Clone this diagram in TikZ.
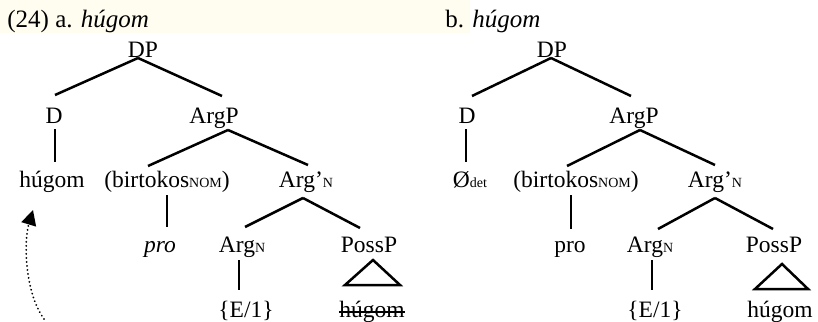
\documentclass[tikz,border=0pt]{standalone}
\usepackage{fontspec}
\setmainfont{Liberation Serif}
\usetikzlibrary{calc,arrows.meta}
\definecolor{hl}{RGB}{255,253,240}
\newcommand{\sbs}[1]{{\fontsize{7pt}{7pt}\selectfont #1}}
\begin{document}
\begin{tikzpicture}[x=0.5pt,y=-0.5pt,
  lab/.style={anchor=base,inner sep=0pt,font=\fontsize{11.75pt}{13pt}\selectfont},
  ttl/.style={anchor=base west,inner sep=0pt,font=\fontsize{12.5pt}{14pt}\selectfont},
  br/.style={line width=1.25pt},
  tri/.style={line width=1.25pt,line join=miter}]
\useasboundingbox (0,0) rectangle (818,321);
\fill[hl] (0,0) rectangle (470,33);
% titles
\node[ttl] (ta) at (7,27) {(24) a. \textit{húgom}};
\node[ttl] (tb) at (445,27) {b. \textit{húgom}};
% tree a
\node[lab] (DPa) at (143,57) {DP};
\node[lab] (Da) at (54,123) {D};
\node[lab] (ArgPa) at (214,123) {ArgP};
\node[lab] (hugoma) at (52,187) {húgom};
\node[lab] (birta) at (167,187) {(birtokos\sbs{NOM})};
\node[lab] (Argpa) at (306,187) {Arg’\sbs{N}};
\node[lab] (proa) at (160,252) {\textit{pro}};
\node[lab] (ArgNa) at (242,252) {Arg\sbs{N}};
\node[lab] (PossPa) at (369,252) {PossP};
\node[lab] (E1a) at (246,317) {\{E/1\}};
\node[lab] (hugomsa) at (372,317) {húgom};
\draw[br] ($(DPa.base)+(-5,1)$) -- ($(Da.base)+(1,-28)$);
\draw[br] ($(DPa.base)+(-5,1)$) -- ($(ArgPa.base)+(8,-27)$);
\draw[br] ($(Da.base)+(1,6)$) -- ($(hugoma.base)+(3,-25)$);
\draw[br] ($(ArgPa.base)+(14,7)$) -- ($(birta.base)+(-19,-21)$);
\draw[br] ($(ArgPa.base)+(14,7)$) -- ($(Argpa.base)+(2,-22)$);
\draw[br] ($(birta.base)+(0,8)$) -- ($(proa.base)+(7,-25)$);
\draw[br] ($(Argpa.base)+(-3,11)$) -- ($(ArgNa.base)+(3,-25)$);
\draw[br] ($(Argpa.base)+(-3,11)$) -- ($(PossPa.base)+(-9,-24)$);
\draw[br] ($(ArgNa.base)+(-3,8)$) -- ($(E1a.base)+(-7,-27)$);
\draw[tri] ($(PossPa.base)+(4,8)$) -- ($(PossPa.base)+(-24,33)$) -- ($(PossPa.base)+(31,33)$) -- cycle;
\draw[line width=1.1pt] ($(hugomsa.base west)+(0,-5)$) -- ($(hugomsa.base east)+(0,-5)$);
\draw[line width=1pt,line cap=round,dash pattern=on 0.01pt off 2pt,-{Triangle[length=7.5pt,width=7.5pt]}]
  ($(hugoma.base)+(-8,132)$) .. controls +(-20,-28) and +(-9,30) .. ($(hugoma.base)+(-19,23)$);
% tree b
\node[lab] (DPb) at (552,57) {DP};
\node[lab] (Db) at (467,123) {D};
\node[lab] (ArgPb) at (634,123) {ArgP};
\node[lab] (Odet) at (470,187) {Ø\sbs{det}};
\node[lab] (birtb) at (576,187) {(birtokos\sbs{NOM})};
\node[lab] (Argpb) at (715,187) {Arg’\sbs{N}};
\node[lab] (prob) at (570,252) {pro};
\node[lab] (ArgNb) at (650,252) {Arg\sbs{N}};
\node[lab] (PossPb) at (774,252) {PossP};
\node[lab] (E1b) at (655,317) {\{E/1\}};
\node[lab] (hugomb) at (780,317) {húgom};
\draw[br] ($(DPb.base)+(-1,1)$) -- ($(Db.base)+(5,-27)$);
\draw[br] ($(DPb.base)+(-1,1)$) -- ($(ArgPb.base)+(-3,-27)$);
\draw[br] ($(Db.base)+(-1,6)$) -- ($(Odet.base)+(-4,-25)$);
\draw[br] ($(ArgPb.base)+(6,7)$) -- ($(birtb.base)+(-9,-21)$);
\draw[br] ($(ArgPb.base)+(6,7)$) -- ($(Argpb.base)+(0,-22)$);
\draw[br] ($(birtb.base)+(-5,8)$) -- ($(prob.base)+(1,-23)$);
\draw[br] ($(Argpb.base)+(0,11)$) -- ($(ArgNb.base)+(8,-23)$);
\draw[br] ($(Argpb.base)+(0,11)$) -- ($(PossPb.base)+(-1,-23)$);
\draw[br] ($(ArgNb.base)+(2,8)$) -- ($(E1b.base)+(-3,-27)$);
\draw[tri] ($(PossPb.base)+(8,12)$) -- ($(PossPb.base)+(-19,37)$) -- ($(PossPb.base)+(34,37)$) -- cycle;
\end{tikzpicture}
\end{document}
